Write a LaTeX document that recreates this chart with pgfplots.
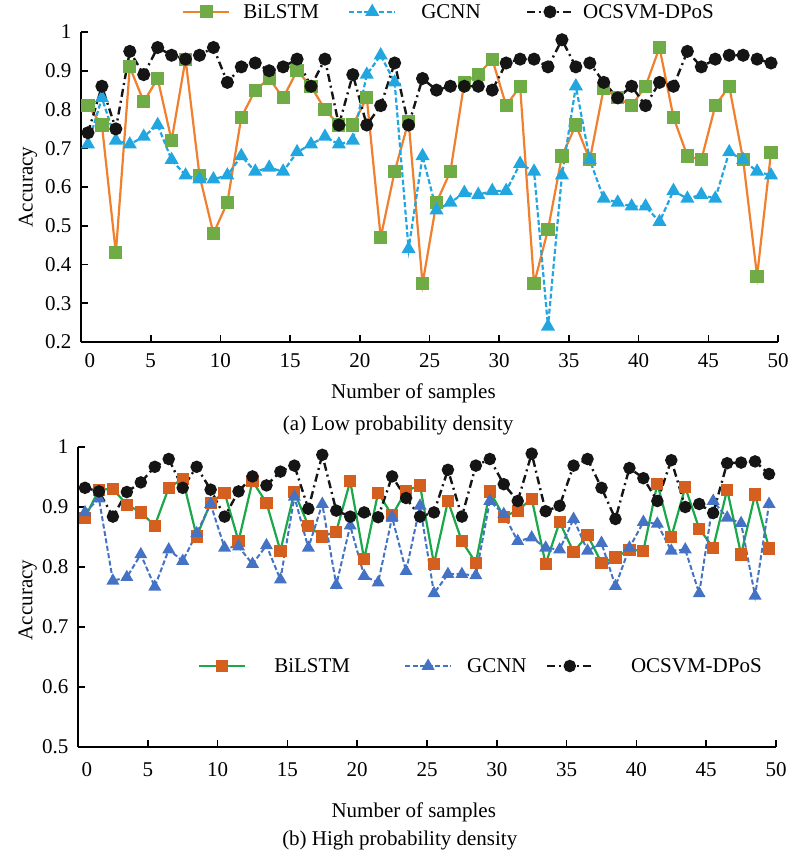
\documentclass[border=0pt]{standalone}
\usepackage{fontspec}
\setmainfont{Liberation Serif}
\usepackage{pgfplots}
\usepackage{pgfplotstable}
\pgfplotsset{compat=1.18}

\definecolor{orgline}{HTML}{F07F2E}
\definecolor{grnmark}{HTML}{6FAC46}
\definecolor{lblue}{HTML}{22A6E0}
\definecolor{grnline}{HTML}{1BA84A}
\definecolor{brmark}{HTML}{D45F1E}
\definecolor{dblue}{HTML}{4472C4}
\definecolor{blk}{HTML}{151515}

\newcommand{\gap}[1]{\rule{#1}{0pt}}

\pgfplotstableread{
x bil gcnn oc
0.5 0.81 0.71 0.74
1.5 0.76 0.83 0.86
2.5 0.43 0.72 0.75
3.5 0.91 0.71 0.95
4.5 0.82 0.73 0.89
5.5 0.88 0.76 0.96
6.5 0.72 0.67 0.94
7.5 0.93 0.63 0.93
8.5 0.63 0.62 0.94
9.5 0.48 0.62 0.96
10.5 0.56 0.63 0.87
11.5 0.78 0.68 0.91
12.5 0.85 0.64 0.92
13.5 0.88 0.65 0.90
14.5 0.83 0.64 0.91
15.5 0.90 0.69 0.93
16.5 0.86 0.71 0.86
17.5 0.80 0.73 0.93
18.5 0.76 0.71 0.76
19.5 0.76 0.72 0.89
20.5 0.83 0.89 0.76
21.5 0.47 0.94 0.81
22.5 0.64 0.87 0.92
23.5 0.77 0.44 0.76
24.5 0.35 0.68 0.88
25.5 0.56 0.54 0.85
26.5 0.64 0.56 0.86
27.5 0.87 0.585 0.86
28.5 0.89 0.58 0.86
29.5 0.93 0.59 0.85
30.5 0.81 0.59 0.92
31.5 0.86 0.66 0.93
32.5 0.35 0.64 0.93
33.5 0.49 0.24 0.91
34.5 0.68 0.63 0.98
35.5 0.76 0.86 0.91
36.5 0.67 0.67 0.92
37.5 0.855 0.57 0.87
38.5 0.83 0.56 0.83
39.5 0.81 0.55 0.86
40.5 0.86 0.55 0.81
41.5 0.96 0.51 0.87
42.5 0.78 0.59 0.86
43.5 0.68 0.57 0.95
44.5 0.67 0.58 0.91
45.5 0.81 0.57 0.93
46.5 0.86 0.69 0.94
47.5 0.67 0.67 0.94
48.5 0.37 0.64 0.93
49.5 0.69 0.63 0.92
}\lowtab

\pgfplotstableread{
x bil gcnn oc
0.5 0.882 0.891 0.932
1.5 0.929 0.914 0.926
2.5 0.930 0.777 0.884
3.5 0.904 0.783 0.925
4.5 0.891 0.821 0.941
5.5 0.869 0.767 0.967
6.5 0.932 0.829 0.980
7.5 0.947 0.810 0.932
8.5 0.851 0.856 0.967
9.5 0.907 0.905 0.929
10.5 0.924 0.832 0.884
11.5 0.843 0.834 0.926
12.5 0.943 0.805 0.951
13.5 0.907 0.836 0.936
14.5 0.827 0.779 0.959
15.5 0.925 0.917 0.969
16.5 0.869 0.832 0.897
17.5 0.851 0.905 0.987
18.5 0.859 0.770 0.894
19.5 0.943 0.869 0.884
20.5 0.813 0.785 0.891
21.5 0.924 0.774 0.883
22.5 0.886 0.883 0.951
23.5 0.927 0.793 0.915
24.5 0.936 0.902 0.884
25.5 0.805 0.756 0.891
26.5 0.910 0.788 0.962
27.5 0.843 0.788 0.884
28.5 0.807 0.786 0.969
29.5 0.926 0.910 0.980
30.5 0.884 0.888 0.938
31.5 0.894 0.843 0.910
32.5 0.914 0.849 0.989
33.5 0.805 0.832 0.893
34.5 0.875 0.829 0.902
35.5 0.825 0.880 0.969
36.5 0.853 0.827 0.980
37.5 0.807 0.840 0.932
38.5 0.816 0.768 0.880
39.5 0.829 0.832 0.965
40.5 0.827 0.875 0.948
41.5 0.939 0.872 0.910
42.5 0.850 0.827 0.978
43.5 0.933 0.829 0.900
44.5 0.864 0.756 0.905
45.5 0.832 0.910 0.890
46.5 0.929 0.882 0.973
47.5 0.821 0.873 0.974
48.5 0.921 0.752 0.976
49.5 0.831 0.905 0.955
}\hightab

\pgfplotsset{
  base/.style={
    scale only axis,
    axis lines*=left,
    axis line style={line width=2pt,-},
    xmin=0, xmax=50,
    xtick={0,5,...,50},
    xticklabels={\gap{18pt}0,5,10,15,20,25,30,35,40,45,50},
    tick align=inside,
    major tick length=7pt,
    tick style={line width=1.6pt,black},
    /pgf/number format/assume math mode=true,
    /pgf/number format/fixed,
    tick label style={font=\fontsize{21}{24}\selectfont},
    label style={font=\fontsize{21}{24}\selectfont},
    yticklabel style={xshift=-6pt},
    xlabel={Number of samples},
    ylabel={Accuracy},
    clip=false,
    legend columns=3,
    legend style={draw=none, fill=none, inner sep=0pt, outer sep=0pt,
      font=\fontsize{21}{24}\selectfont,
      nodes={inner sep=0pt}, column sep=0pt},
    legend image code/.code={%
      \draw[mark repeat=2,mark phase=2] plot coordinates {(0pt,0pt) (23pt,0pt) (46pt,0pt)};},
  },
  ocstyle/.style={blk, line width=2.4pt, dash pattern=on 8pt off 4pt on 2pt off 4pt,
     mark=*, mark size=5.3pt, mark options={solid, fill=blk, draw=blk}},
}

\begin{document}
\begin{tikzpicture}
\path[use as bounding box] (0pt,0pt) rectangle (793pt,-855pt);

% ---------- (a) ----------
\begin{axis}[base,
  at={(81pt,-342pt)}, anchor=south west,
  width=697pt, height=310pt,
  ymin=0.2, ymax=1,
  ytick={0.2,0.3,0.4,0.5,0.6,0.7,0.8,0.9,1},
  xticklabel style={yshift=-8pt},
  xlabel style={at={(axis description cs:0.477,-0.165)}, anchor=center},
  ylabel style={at={(axis description cs:-0.076,0.5)}, anchor=center},
  legend style={at={(axis description cs:0.145,1.065)}, anchor=west},
]
\addplot[orgline, line width=2.2pt, mark=square*, mark size=5.5pt,
  mark options={solid, fill=grnmark, draw=grnmark}] table[x=x,y=bil] {\lowtab};
\addlegendentry{\gap{13pt}BiLSTM\gap{29pt}}
\addplot[lblue, line width=2.2pt, dash pattern=on 5pt off 2.5pt, mark=triangle*, mark size=6pt,
  mark options={solid, fill=lblue, draw=lblue}] table[x=x,y=gcnn] {\lowtab};
\addlegendentry{\gap{25pt}GCNN\gap{45pt}}
\addplot[ocstyle] table[x=x,y=oc] {\lowtab};
\addlegendentry{\gap{9pt}OCSVM-DPoS}
\node[font=\fontsize{21}{24}\selectfont] at (axis description cs:0.455,-0.268) {(a) Low probability density};
\end{axis}

% ---------- (b) ----------
\begin{axis}[base,
  at={(78pt,-747pt)}, anchor=south west,
  width=698pt, height=300pt,
  ymin=0.5, ymax=1,
  ytick={0.5,0.6,0.7,0.8,0.9,1},
  xticklabel style={yshift=-12pt},
  xlabel style={at={(axis description cs:0.481,-0.217)}, anchor=center},
  ylabel style={at={(axis description cs:-0.072,0.49)}, anchor=center},
  legend style={at={(axis description cs:0.172,0.27)}, anchor=west},
]
\addplot[grnline, line width=2.2pt, mark=square*, mark size=5pt,
  mark options={solid, fill=brmark, draw=brmark}] table[x=x,y=bil] {\hightab};
\addlegendentry{\gap{28pt}BiLSTM\gap{54pt}}
\addplot[dblue, line width=2pt, dash pattern=on 5pt off 2.5pt, mark=triangle*, mark size=5.5pt,
  mark options={solid, fill=dblue, draw=dblue}] table[x=x,y=gcnn] {\hightab};
\addlegendentry{\gap{15pt}GCNN\gap{19pt}}
\addplot[ocstyle, mark size=5pt] table[x=x,y=oc] {\hightab};
\addlegendentry{\gap{37pt}OCSVM-DPoS}
\node[font=\fontsize{21}{24}\selectfont] at (axis description cs:0.461,-0.31) {(b) High probability density};
\end{axis}
\end{tikzpicture}
\end{document}
